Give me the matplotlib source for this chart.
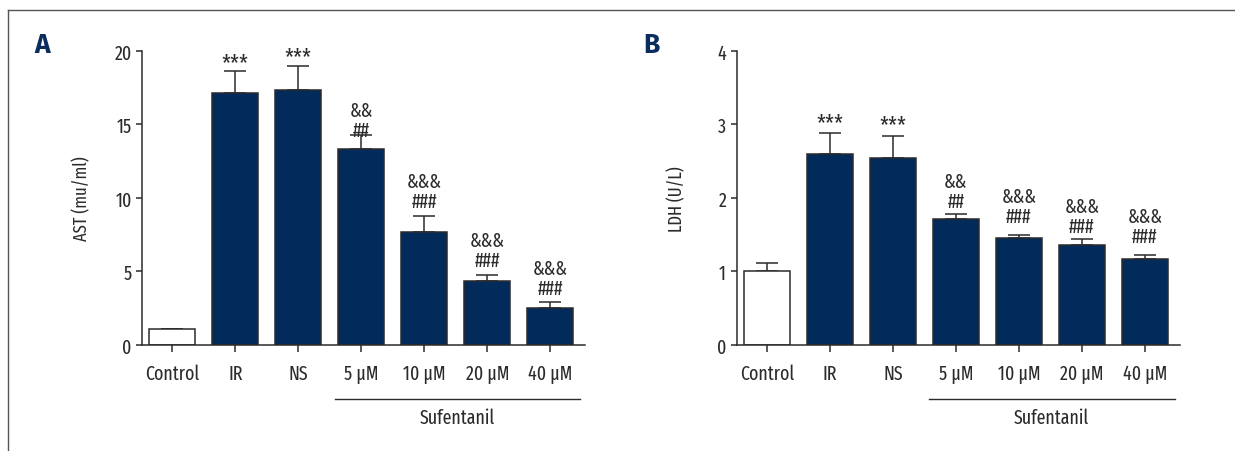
import matplotlib
matplotlib.use("Agg")
import matplotlib.pyplot as plt
from matplotlib.lines import Line2D
import numpy as np

plt.rcParams['font.family'] = ['Fira Sans Extra Condensed', 'Fira Sans Condensed',
                               'Liberation Sans Narrow', 'DejaVu Sans']

groups = ['Control', 'IR', 'NS', '5 μM', '10 μM', '20 μM', '40 μM']

# AST (mu/ml), mean and upper SD
ast_mean = [1.1, 17.1, 17.3, 13.35, 7.7, 4.35, 2.5]
ast_err = [0.0, 1.5, 1.68, 0.92, 1.1, 0.42, 0.4]
ast_marks = ['', '***', '***', '&&\n##', '&&&\n###', '&&&\n###', '&&&\n###']

# LDH (U/L), mean and upper SD
ldh_mean = [1.01, 2.59, 2.54, 1.71, 1.46, 1.36, 1.165]
ldh_err = [0.105, 0.29, 0.3, 0.075, 0.04, 0.075, 0.065]
ldh_marks = ['', '***', '***', '&&\n##', '&&&\n###', '&&&\n###', '&&&\n###']

navy = '#022a5a'
ink = '#2b2b2b'

fig = plt.figure(figsize=(12.35, 4.52), dpi=100)


def draw_panel(ax, mean, err, marks, ymax, step, ylabel, gaps):
    x = np.arange(len(groups))
    colors = ['white'] + [navy] * (len(groups) - 1)
    ax.bar(x, mean, width=0.73, color=colors, edgecolor=ink, linewidth=1.1, zorder=2)
    ax.errorbar(x, mean, yerr=[np.zeros(len(err)), err], fmt='none',
                ecolor=ink, elinewidth=1.1, capsize=8, capthick=1.1, zorder=1)
    for xi, m, e, s, g in zip(x, mean, err, marks, gaps):
        if s:
            size = 17 if s.startswith('*') else 14
            ax.annotate(s, xy=(xi, m + e), xytext=(0, g), textcoords='offset points',
                        ha='center', va='baseline', fontsize=size, color=ink,
                        linespacing=1.05)

    ax.set_xlim(-0.48, 6.55)
    ax.set_ylim(0, ymax)
    ax.set_yticks(np.arange(0, ymax + step / 2, step))
    ax.set_xticks(x)
    ax.set_xticklabels(groups)
    ax.set_ylabel(ylabel, fontsize=13, color=ink)
    ax.yaxis.set_label_coords(-0.115, 0.5)

    for side in ['top', 'right']:
        ax.spines[side].set_visible(False)
    for side in ['left', 'bottom']:
        ax.spines[side].set_linewidth(1.1)
        ax.spines[side].set_color(ink)
    ax.tick_params(axis='y', length=4.5, width=1.1, color=ink, labelsize=14,
                   labelcolor=ink, pad=3)
    ax.tick_params(axis='x', length=5, width=1.1, color=ink, labelsize=14,
                   labelcolor=ink, pad=8.5)

    # bracket under the sufentanil doses
    ax.add_line(Line2D([2.58, 6.47], [-0.183, -0.183], color=ink, linewidth=1.0,
                       transform=ax.get_xaxis_transform(), clip_on=False))
    ax.text(4.52, -0.245, 'Sufentanil', transform=ax.get_xaxis_transform(),
            ha='center', va='center', fontsize=14, color=ink)


ax1 = fig.add_axes([0.115, 0.2345, 0.3587, 0.651])
draw_panel(ax1, ast_mean, ast_err, ast_marks, 20, 5, 'AST (mu/ml)',
           [0, 1, 1, -1, 6, 6, 6])

ax2 = fig.add_axes([0.5964, 0.2345, 0.3587, 0.651])
draw_panel(ax2, ldh_mean, ldh_err, ldh_marks, 4, 1, 'LDH (U/L)',
           [0, 2, 3, 4.5, 9, 5, 9])

label_font = ['Fira Sans', 'Liberation Sans', 'DejaVu Sans']
fig.text(0.0275, 0.8827, 'A', fontsize=19, fontweight='bold', color='#0b2d5e',
         family=label_font)
fig.text(0.5207, 0.8827, 'B', fontsize=19, fontweight='bold', color='#0b2d5e',
         family=label_font)

# frame lines along the top and left edge
fig.add_artist(Line2D([8 / 1235, 1.0], [1 - 11 / 452, 1 - 11 / 452],
                      color='#555555', linewidth=1.0, transform=fig.transFigure))
fig.add_artist(Line2D([8 / 1235, 8 / 1235], [0.0, 1 - 11 / 452],
                      color='#555555', linewidth=1.0, transform=fig.transFigure))

plt.savefig('out.png', dpi=100)
